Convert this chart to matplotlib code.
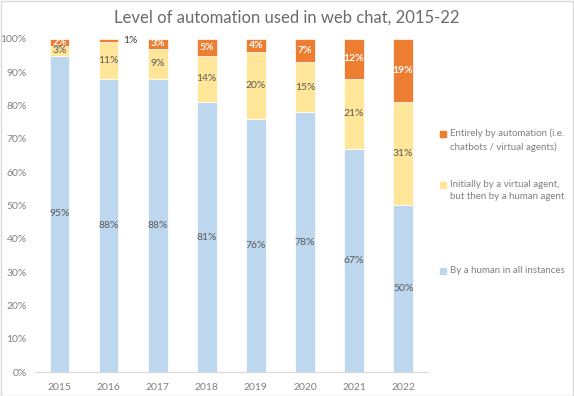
import numpy as np
import matplotlib.pyplot as plt
from matplotlib.patches import Rectangle

plt.rcParams['font.family'] = ['Lato', 'DejaVu Sans']

years = ['2015', '2016', '2017', '2018', '2019', '2020', '2021', '2022']
human = [95, 88, 88, 81, 76, 78, 67, 50]
virtual_then_human = [3, 11, 9, 14, 20, 15, 21, 31]
automation = [2, 1, 3, 5, 4, 7, 12, 19]

labels = ['By a human in all instances',
          'Initially by a virtual agent,\nbut then by a human agent',
          'Entirely by automation (i.e.\nchatbots / virtual agents)']
colors = ['#BDD7EE', '#FFE699', '#ED7D31']
grey = '#808080'

fig = plt.figure(figsize=(5.74, 3.96), dpi=100)
fig.patches.append(Rectangle((0.001, 0.001), 0.997, 0.997, transform=fig.transFigure,
                             fill=False, edgecolor='#D9D9D9', linewidth=1))
ax = fig.add_axes([0.061, 0.0606, 0.684, 0.841])

x = np.arange(len(years))
w = 0.4
ax.bar(x, human, w, color=colors[0], edgecolor='white', linewidth=0.5)
ax.bar(x, virtual_then_human, w, bottom=human, color=colors[1],
       edgecolor='white', linewidth=0.5)
bottom3 = np.array(human) + np.array(virtual_then_human)
ax.bar(x, automation, w, bottom=bottom3, color=colors[2],
       edgecolor='white', linewidth=0.5)

for i in range(len(years)):
    ax.text(x[i], human[i] / 2, f'{human[i]}%', ha='center', va='center',
            fontsize=7.5, color='#595959')
    ax.text(x[i], human[i] + virtual_then_human[i] / 2, f'{virtual_then_human[i]}%',
            ha='center', va='center', fontsize=7.5, color='#595959')
    if automation[i] < 2:
        # too thin to hold its label, so the label sits beside the bar
        ax.text(x[i] + w / 2 + 0.1, bottom3[i] + automation[i] / 2, f'{automation[i]}%',
                ha='left', va='center', fontsize=7.5, color='#404040')
    else:
        ax.text(x[i], bottom3[i] + automation[i] / 2, f'{automation[i]}%',
                ha='center', va='center', fontsize=7.5, color='white', fontweight='bold')

ax.set_xlim(-0.5, len(years) - 0.5)
ax.set_ylim(0, 100)
ax.set_xticks(x)
ax.set_xticklabels(years)
ax.set_yticks(np.arange(0, 101, 10))
ax.set_yticklabels([f'{v}%' for v in range(0, 101, 10)])
ax.tick_params(axis='both', length=0, labelsize=7.5, colors=grey)
ax.tick_params(axis='x', pad=8)
ax.tick_params(axis='y', pad=6)
for s in ['top', 'right', 'left']:
    ax.spines[s].set_visible(False)
ax.spines['bottom'].set_color('#D9D9D9')

fig.text(0.5, 0.955, 'Level of automation used in web chat, 2015-22', ha='center',
         va='center', fontsize=12, color='#6A6A6A')

# legend, spread out vertically like the original
leg_y = [0.318, 0.516, 0.645]
for lab, col, ly in zip(labels, colors, leg_y):
    top = ly + (lab.count('\n')) * 0.019
    fig.patches.append(Rectangle((0.7665, top - 0.011), 0.011, 0.016,
                                 transform=fig.transFigure, color=col))
    fig.text(0.784, top + 0.011, lab, ha='left', va='top',
             fontsize=7, color=grey, linespacing=1.5)

fig.savefig('out.png', dpi=100)
